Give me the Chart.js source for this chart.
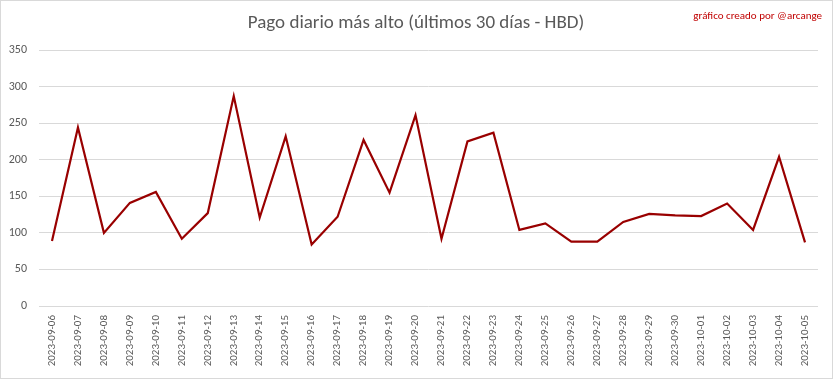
<!DOCTYPE html>
<html><head><meta charset="utf-8">
<script src="https://cdn.jsdelivr.net/npm/chart.js@4/dist/chart.umd.min.js"></script>
<style>html,body{margin:0;padding:0;background:#fff}#wrap{width:833px;height:379px;position:relative}</style>
</head><body><div id="wrap"><canvas id="c" width="833" height="379"></canvas></div>
<script>
const categories = ["2023-09-06","2023-09-07","2023-09-08","2023-09-09","2023-09-10","2023-09-11","2023-09-12","2023-09-13","2023-09-14","2023-09-15","2023-09-16","2023-09-17","2023-09-18","2023-09-19","2023-09-20","2023-09-21","2023-09-22","2023-09-23","2023-09-24","2023-09-25","2023-09-26","2023-09-27","2023-09-28","2023-09-29","2023-09-30","2023-10-01","2023-10-02","2023-10-03","2023-10-04","2023-10-05"];
const values = [89,244,100,141,156,92,127,287,121,232,84,122,227,155,261,92,225,237,104,113,88,88,115,126,124,123,140,104,204,87];
const yTicks = [0,50,100,150,200,250,300,350];
const titleText = "Pago diario más alto (últimos 30 días - HBD)";
const creditText = "gráfico creado por @arcange";
const FONT = "Carlito, Calibri, Lato, sans-serif";

const deco = {
  id: 'deco',
  afterDraw(chart) {
    const ctx = chart.ctx;
    ctx.save();
    ctx.strokeStyle = '#d9d9d9';
    ctx.lineWidth = 1;
    ctx.strokeRect(0.5, 0.5, 832, 378);
    ctx.fillStyle = '#595959';
    ctx.font = '19px ' + FONT;
    ctx.textAlign = 'center';
    ctx.textBaseline = 'middle';
    ctx.fillText(titleText, 416, 23);
    ctx.fillStyle = '#c00000';
    ctx.font = '11px ' + FONT;
    ctx.textAlign = 'right';
    ctx.fillText(creditText, 822, 16);
    ctx.restore();
  }
};

new Chart(document.getElementById('c'), {
  type: 'line',
  data: { labels: categories, datasets: [{ data: values, borderColor: '#990000', borderWidth: 2.2, pointRadius: 0, tension: 0, fill: false }] },
  options: {
    responsive: false, animation: false,
    layout: { padding: { top: 50, left: 0, right: 15, bottom: 0 } },
    plugins: { legend: { display: false }, title: { display: false }, tooltip: { enabled: false } },
    scales: {
      x: {
        offset: true,
        grid: { display: false, drawTicks: false },
        border: { display: false },
        ticks: { autoSkip: false, minRotation: 90, maxRotation: 90, padding: 9, color: '#595959', font: { family: FONT, size: 11 } },
        afterFit(s) { s.height = 73; }
      },
      y: {
        min: 0, max: 350,
        afterBuildTicks(s) { s.ticks = yTicks.map(v => ({ value: v })); },
        grid: { color: '#d9d9d9', lineWidth: 1, drawTicks: false },
        border: { display: false },
        ticks: { padding: 12, color: '#595959', font: { family: FONT, size: 12 } },
        afterFit(s) { s.width = 39; }
      }
    }
  },
  plugins: [deco]
});
</script></body></html>
